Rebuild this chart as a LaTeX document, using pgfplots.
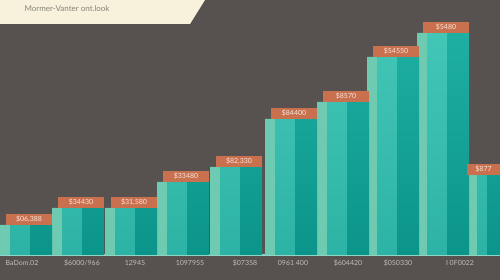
\documentclass[border=0pt]{standalone}
\usepackage{pgfplots}
\pgfplotsset{compat=1.18}
\usepackage{fontspec}
\setmainfont{Lato}
\definecolor{bgc}{HTML}{575150}
\definecolor{banner}{HTML}{F8F1DC}
\definecolor{titlec}{HTML}{85857A}
\definecolor{lightc}{HTML}{6ECBB2}
\definecolor{midc}{HTML}{42C6B6}
\definecolor{midb}{HTML}{2DB3A5}
\definecolor{darkt}{HTML}{1FAFA2}
\definecolor{darkb}{HTML}{0B948A}
\definecolor{orangec}{HTML}{C9704F}
\definecolor{labc}{HTML}{F8E6DA}
\definecolor{tickc}{HTML}{C4BCB8}
\definecolor{basec}{HTML}{8ED6C6}
\begin{document}
\begin{tikzpicture}
\useasboundingbox (0,0) rectangle (500pt,280pt);
\fill[bgc] (0,0) rectangle (500pt,280pt);
\begin{axis}[
  at={(0pt,25pt)}, anchor=south west,
  scale only axis, width=500pt, height=255pt,
  xmin=0, xmax=500, ymin=0, ymax=255,
  axis x line=bottom, axis y line=none,
  x axis line style={draw=basec, line width=1.2pt, -},
  ytick=\empty,
  xtick={22,82,135,190,245,293,348,398,460},
  xticklabels={BaDom.02,\$6000/966,12945,1097955,\$07358,0961 400,\$604420,\$050330,I 0F0022},
  major tick length=0pt,
  xticklabel style={font=\fontsize{7}{8}\selectfont, text=tickc, anchor=base, yshift=-10.5pt},
  /pgf/number format/assume math mode=true,
  clip=true,
]
% light strips
\addplot[ybar, bar width=10, bar shift=0pt, draw=none, fill=lightc] coordinates {
 (5,30) (57,47) (110,47) (162,73) (215,88) (270,136) (322,153) (372,198) (422,222) (472,80)};
% mid part
\addplot[ybar, bar width=20, bar shift=0pt, draw=none, top color=midc, bottom color=midb] coordinates {
 (20,30) (72,47) (125,47) (177,73) (230,88) (285,136) (337,153) (387,198) (437,222) (487,80)};
% dark part
\addplot[ybar, bar width=22, bar shift=0pt, draw=none, top color=darkt, bottom color=darkb] coordinates {
 (41,30) (93,47) (146,47) (198,73) (251,88) (306,136) (358,153) (408,198) (458,222) (498,80)};
% value labels
\addplot[draw=none, mark=none, nodes near coords, point meta=explicit symbolic,
  nodes near coords style={anchor=south, fill=orangec, minimum width=46pt, minimum height=11pt,
  inner sep=0pt, text=labc, font=\fontsize{7}{8}\selectfont}] coordinates {
 (29,30) [\$06,388] (81,47) [\$34430] (134,47) [\$31,580] (186,73) [\$33480]
 (239,88) [\$82,330] (294,136) [\$84400] (346,153) [\$8570] (396,198) [\$54550]
 (446,222) [\$5480]};
\addplot[draw=none, mark=none, nodes near coords, point meta=explicit symbolic,
  nodes near coords style={anchor=south, fill=orangec, minimum width=33pt, minimum height=11pt,
  inner sep=0pt, text=labc, font=\fontsize{7}{8}\selectfont}] coordinates {
 (483.5,80) [\$877]};
\end{axis}
\fill[banner] (0,280pt) -- (205pt,280pt) -- (190pt,256pt) -- (0,256pt) -- cycle;
\node[anchor=west, text=titlec, font=\fontsize{8}{9}\selectfont] at (21pt,271pt) {Mormer-Vanter ont.look};
\end{tikzpicture}
\end{document}
